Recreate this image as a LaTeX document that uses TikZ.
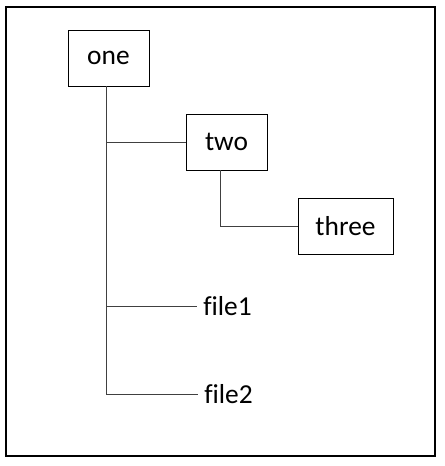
\documentclass[tikz,border=0pt]{standalone}
\usepackage{fontspec}
\setmainfont{Carlito}[Ligatures=NoCommon]
\usepackage{tikz}
\usepackage{xcolor}

\begin{document}
\begin{tikzpicture}[x=1cm,y=1cm,
  dirbox/.style={draw,line width=0.6pt,minimum width=2.025cm,minimum height=1.4cm,inner sep=0pt,font=\fontsize{19.5}{23}\selectfont},
  filename/.style={anchor=west,inner sep=0.15cm,font=\fontsize{19.5}{23}\selectfont},
  branch/.style={draw=black!75,line width=0.6pt}]
\useasboundingbox (0,0) rectangle (11.1,-11.65);
\draw[line width=1.4pt] (0.15,-0.175) rectangle (10.875,-11.4);
\node[dirbox] (one) at (2.7125,-1.45) {one};
\node[dirbox] (two) at (5.6625,-3.55) {two};
\node[dirbox,minimum width=2.375cm] (three) at (8.6375,-5.65) {three};
\node[filename] (file1) at (4.925,-7.65) {file1};
\node[filename] (file2) at (4.95,-9.85) {file2};
\coordinate (trunk) at ([xshift=-0.06cm]one.south);
\draw[branch] (trunk) |- (file2.west);
\draw[branch] (trunk |- two) -- (two.west);
\draw[branch] (trunk |- file1) -- (file1.west);
\draw[branch] ([xshift=-0.16cm]two.south) |- (three.west);
\end{tikzpicture}
\end{document}
